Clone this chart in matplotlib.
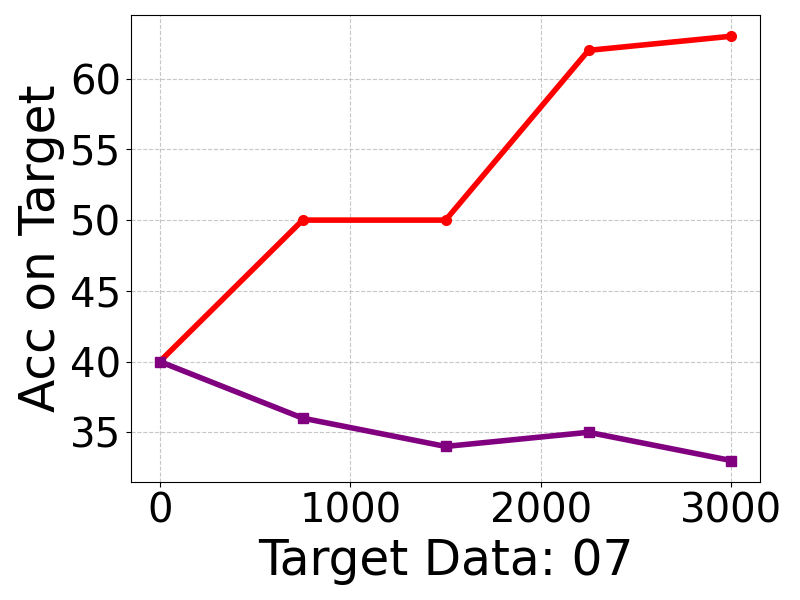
import matplotlib
matplotlib.use("Agg")
import matplotlib.pyplot as plt
from matplotlib.ticker import MultipleLocator

# dados
target_data = [0, 750, 1500, 2250, 3000]
acc_red = [40, 50, 50, 62, 63]
acc_purple = [40, 36, 34, 35, 33]

fig, ax = plt.subplots(figsize=(8, 6), dpi=100)
ax.plot(target_data, acc_red, color="red", marker="o", linewidth=4, markersize=7)
ax.plot(target_data, acc_purple, color="purple", marker="s", linewidth=4, markersize=7)

ax.set_xlabel("Target Data: 07", fontsize=35)
ax.set_ylabel("Acc on Target", fontsize=35)
ax.tick_params(axis="both", labelsize=29)
ax.yaxis.set_major_locator(MultipleLocator(5))
ax.grid(True, linestyle="--", alpha=0.7)

plt.subplots_adjust(left=0.164, right=0.95, top=0.975, bottom=0.197)
plt.savefig("out.png", dpi=100)
